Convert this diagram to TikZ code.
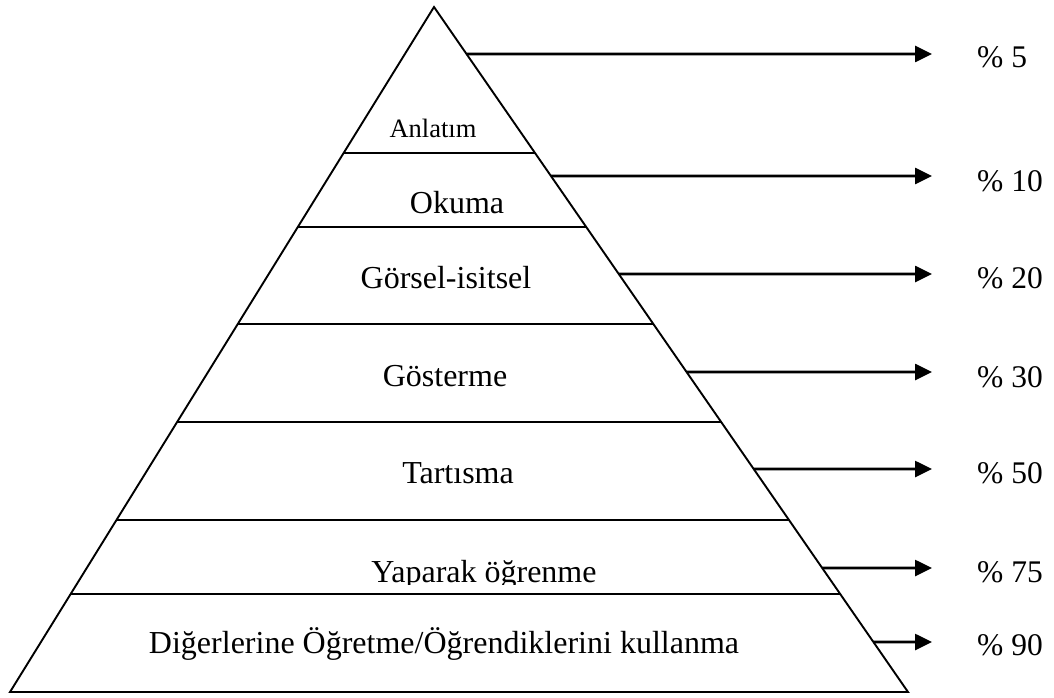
\documentclass[tikz,border=0pt]{standalone}
\usepackage{fontspec}
\setmainfont{Liberation Serif}
\usetikzlibrary{arrows.meta,calc}
\begin{document}
\begin{tikzpicture}[x=1pt,y=-1pt,
  edge/.style={line width=1.9pt},
  ptr/.style={line width=2.6pt,-{Triangle[length=17pt,width=16pt]}},
  lvl/.style={anchor=base,inner sep=0pt,font=\fontsize{32}{32}\selectfont},
  pct/.style={anchor=base west,inner sep=0pt,font=\fontsize{31.5}{31.5}\selectfont}]
\useasboundingbox (0,0) rectangle (1054,698);
\coordinate (apex) at (434,7);
\coordinate (bl) at (10,692);
\coordinate (br) at (908,692);
\draw[edge] (apex) -- (bl) -- (br) -- cycle;
% level separators
\foreach \t [count=\i] in {0.2131,0.3212,0.4628,0.6058,0.7489,0.8569}{
  \coordinate (L\i) at ($(apex)!\t!(bl)$);
  \coordinate (R\i) at ($(apex)!\t!(br)$);
  \draw[edge] (L\i) -- (R\i);
}
% level labels
\node[lvl,font=\fontsize{26.5}{26.5}\selectfont] (anl) at (433,137) {Anlatım};
\node[lvl] (oku) at (457,213) {Okuma};
\node[lvl] (gor) at (446,288) {Görsel-isitsel};
\node[lvl] (gos) at (445,386) {Gösterme};
\node[lvl] (tar) at (458,483) {Tartısma};
\begin{scope}
\clip (0,0) rectangle (1054,584);
\node[lvl] (yap) at (484,582) {Yaparak öğrenme};
\end{scope}
\node[lvl] (dig) at (444,653) {Diğerlerine Öğretme/Öğrendiklerini kullanma};
% arrows and percentages
\foreach \t/\y/\b/\p [count=\i] in {0.0686/54/68/5,0.2467/176/191/10,0.3898/274/288/20,0.5328/372/387/30,0.6745/469/483/50,0.8190/568/582/75,0.9270/642/655/90}{
  \coordinate (S\i) at ($(apex)!\t!(br)$);
  \coordinate (T\i) at (932,\y);
  \node[pct] (P\i) at (977,\b) {\% \p};
  \draw[ptr] (S\i) -- (T\i);
}
\end{tikzpicture}
\end{document}
